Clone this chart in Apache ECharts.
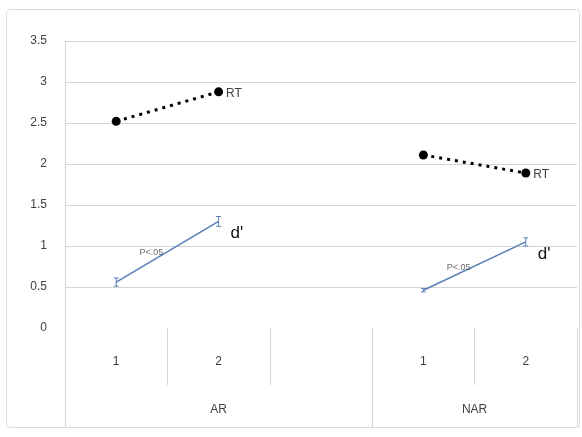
<!DOCTYPE html>
<html>
<head>
<meta charset="utf-8">
<script src="https://cdn.jsdelivr.net/npm/echarts@6/dist/echarts.min.js"></script>
<style>
  html, body { margin: 0; padding: 0; background: #ffffff; }
  #chart { width: 582px; height: 437px; }
</style>
</head>
<body>
<div id="chart"></div>
<script>
// Condition levels within each group (blank slot separates the groups)
const categories = ['1', '2', '', '1', '2'];
// Group labels and how many slots each group spans
const groups = ['AR', 'NAR'];
const groupSpans = [3, 2];

// Reaction time (RT) and sensitivity (d') per slot
const rtValues = [2.52, 2.88, null, 2.11, 1.89];
const dPrimeValues = [0.56, 1.30, null, 0.46, 1.05];
const dPrimeErrors = [0.05, 0.06, null, 0.02, 0.05];

// Significance note shown along each d' segment
const sigNotes = ['P<.05', 'P<.05'];

// Y-axis ticks
const yTicks = ['0', '0.5', '1', '1.5', '2', '2.5', '3', '3.5'];

const FONT = '"Liberation Sans", "DejaVu Sans", sans-serif';
const GRID_LINE = '#d4d4d4';
const TEXT = '#404040';
const BLUE = '#5a80b8';

// group boundaries and centres on a 0..N slot scale
const groupBounds = [0];
groupSpans.forEach(s => groupBounds.push(groupBounds[groupBounds.length - 1] + s));
const groupCentres = groups.map((g, i) => (groupBounds[i] + groupBounds[i + 1]) / 2);

// midpoint of each non-null pair of d' values, for the significance notes
const notePoints = [];
for (let i = 0; i + 1 < dPrimeValues.length; i++) {
  if (dPrimeValues[i] != null && dPrimeValues[i + 1] != null) {
    notePoints.push([i + 1, (dPrimeValues[i] + dPrimeValues[i + 1]) / 2]);
  }
}

// true for the last point of each connected run
const isRunEnd = (arr, i) => arr[i] != null && (i + 1 >= arr.length || arr[i + 1] == null);

const chart = echarts.init(document.getElementById('chart'), null, { renderer: 'canvas' });

chart.setOption({
  animation: false,
  backgroundColor: '#ffffff',
  textStyle: { fontFamily: FONT },
  graphic: [{
    type: 'rect',
    shape: { x: 6.5, y: 9.5, width: 573, height: 418, r: 3 },
    style: { fill: 'none', stroke: '#dcdcdc', lineWidth: 1 },
    silent: true,
    z: -10
  }],
  grid: { left: 65, right: 5, top: 41, bottom: 109 },
  xAxis: [{
    type: 'category',
    data: categories,
    position: 'bottom',
    boundaryGap: true,
    axisLine: { show: false },
    axisTick: { show: true, interval: 0, length: 57, lineStyle: { color: GRID_LINE } },
    axisLabel: { interval: 0, margin: 28, color: TEXT, fontSize: 12, fontFamily: FONT },
    splitLine: { show: false }
  }, {
    type: 'value',
    min: 0,
    max: categories.length,
    position: 'bottom',
    axisLine: { show: false },
    axisTick: { show: true, length: 99, customValues: groupBounds, lineStyle: { color: GRID_LINE } },
    axisLabel: {
      customValues: groupCentres,
      margin: 76,
      color: TEXT,
      fontSize: 12,
      fontFamily: FONT,
      formatter: v => {
        const i = groupCentres.findIndex(c => Math.abs(c - v) < 1e-6);
        return i >= 0 ? groups[i] : '';
      }
    },
    splitLine: { show: false }
  }],
  yAxis: {
    type: 'value',
    min: 0,
    max: 3.5,
    interval: 0.5,
    axisLine: { show: true, lineStyle: { color: GRID_LINE } },
    axisTick: { show: false },
    axisLabel: {
      margin: 18, color: TEXT, fontSize: 12, fontFamily: FONT,
      formatter: v => yTicks[Math.round(v / 0.5)]
    },
    splitLine: { show: true, showMinLine: false, lineStyle: { color: GRID_LINE, width: 1 } }
  },
  series: [{
    name: 'RT',
    type: 'line',
    xAxisIndex: 0,
    data: rtValues.map((v, i) => ({
      value: v,
      label: {
        show: isRunEnd(rtValues, i),
        formatter: 'RT',
        position: 'right',
        distance: 3,
        offset: [0, 2],
        color: TEXT,
        fontSize: 12,
        fontFamily: FONT
      }
    })),
    connectNulls: false,
    symbol: 'circle',
    symbolSize: 9,
    itemStyle: { color: '#000000' },
    lineStyle: { color: '#000000', width: 3, type: [3, 5], cap: 'butt' },
    z: 3
  }, {
    name: "d'",
    type: 'line',
    xAxisIndex: 0,
    data: dPrimeValues.map((v, i) => ({
      value: v,
      label: {
        show: isRunEnd(dPrimeValues, i),
        formatter: "d'",
        position: 'right',
        distance: 12,
        offset: [0, 12],
        color: '#111111',
        fontSize: 17,
        fontFamily: FONT
      }
    })),
    connectNulls: false,
    showSymbol: true,
    symbol: 'circle',
    symbolSize: 0.01,
    lineStyle: { color: BLUE, width: 1.6 },
    itemStyle: { color: BLUE },
    z: 2
  }, {
    name: 'error',
    type: 'custom',
    xAxisIndex: 0,
    data: dPrimeValues.map((v, i) => v == null ? null : [i, v, dPrimeErrors[i]]).filter(d => d),
    renderItem: (params, api) => {
      const x = api.value(0), v = api.value(1), e = api.value(2);
      const top = api.coord([x, v + e]);
      const bot = api.coord([x, v - e]);
      const cap = 2.5;
      const st = { stroke: BLUE, lineWidth: 1 };
      return {
        type: 'group',
        children: [
          { type: 'line', shape: { x1: top[0], y1: top[1], x2: bot[0], y2: bot[1] }, style: st },
          { type: 'line', shape: { x1: top[0] - cap, y1: top[1], x2: top[0] + cap, y2: top[1] }, style: st },
          { type: 'line', shape: { x1: bot[0] - cap, y1: bot[1], x2: bot[0] + cap, y2: bot[1] }, style: st }
        ]
      };
    },
    z: 2
  }, {
    name: 'notes',
    type: 'scatter',
    xAxisIndex: 1,
    symbolSize: 0,
    data: notePoints.map((p, i) => ({
      value: p,
      label: {
        show: true,
        formatter: sigNotes[i],
        position: 'inside',
        offset: [-16, 1],
        color: '#444444',
        fontSize: 9,
        fontFamily: FONT
      }
    })),
    z: 4
  }]
});
</script>
</body>
</html>
